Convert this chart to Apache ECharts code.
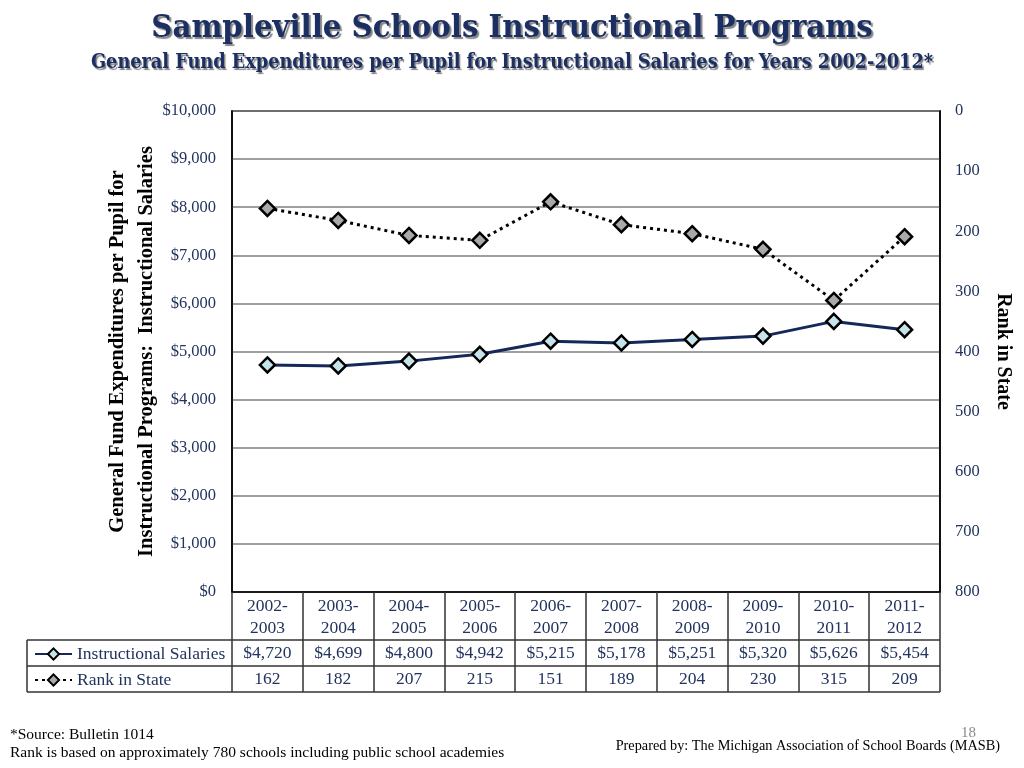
<!DOCTYPE html>
<html><head><meta charset="utf-8">
<script src="https://cdn.jsdelivr.net/npm/echarts@6/dist/echarts.min.js"></script>
<style>html,body{margin:0;padding:0;background:#fff}#c{width:1024px;height:768px}</style>
</head><body><div id="c"></div>
<script>
var categories = ['2002-\n2003','2003-\n2004','2004-\n2005','2005-\n2006','2006-\n2007','2007-\n2008','2008-\n2009','2009-\n2010','2010-\n2011','2011-\n2012'];
var salaries = [4720,4699,4800,4942,5215,5178,5251,5320,5626,5454];
var ranks = [162,182,207,215,151,189,204,230,315,209];
var seriesNames = ['Instructional Salaries','Rank in State'];

var SERIF = '"Liberation Serif", "DejaVu Serif", serif';
var NAVY = '#22335e';
var chart = echarts.init(document.getElementById('c'));
function money(v){ return '$' + v.toLocaleString('en-US'); }

var legendBase = {
  orient:'vertical', left:29, itemWidth:37, itemHeight:14, itemGap:0,
  textStyle:{fontFamily:SERIF,fontSize:17.5,color:NAVY,lineHeight:20}
};

var option = {
  backgroundColor:'#fff',
  animation:false,
  title:[{
    text:'Sampleville Schools Instructional Programs',
    left:'center', top:7,
    textStyle:{fontFamily:'"DejaVu Serif Condensed","DejaVu Serif",serif',fontWeight:'bold',fontSize:32.5,color:'#1b2f63',
      textShadowColor:'rgba(80,80,80,0.7)',textShadowOffsetX:2,textShadowOffsetY:2,textShadowBlur:1}
  },{
    text:'General Fund Expenditures per Pupil for Instructional Salaries for Years 2002-2012*',
    left:'center', top:48,
    textStyle:{fontFamily:'"DejaVu Serif Condensed","DejaVu Serif",serif',fontWeight:'bold',fontSize:19.7,color:'#1b2f63',
      textShadowColor:'rgba(80,80,80,0.7)',textShadowOffsetX:1.5,textShadowOffsetY:1.5,textShadowBlur:1}
  }],
  legend:[
    Object.assign({}, legendBase, {top:639, data:[seriesNames[0]]}),
    Object.assign({}, legendBase, {top:665, data:[seriesNames[1]]})
  ],
  grid:{left:232,right:84,top:111,bottom:176,show:true,borderColor:'#000',borderWidth:1.5,containLabel:false},
  xAxis:{
    type:'category', data:categories, boundaryGap:true,
    axisLine:{show:true,lineStyle:{color:'#000',width:1.5}},
    axisTick:{show:true,length:100,lineStyle:{color:'#333',width:1.5}},
    axisLabel:{fontFamily:SERIF,fontSize:17.5,color:NAVY,lineHeight:22,margin:3,interval:0}
  },
  yAxis:[{
    type:'value', min:0, max:10000, interval:1000, position:'left',
    name:'General Fund Expenditures per Pupil for\nInstructional Programs:  Instructional Salaries',
    nameLocation:'middle', nameGap:71, nameMoveOverlap:false,
    nameTextStyle:{fontFamily:SERIF,fontWeight:'bold',fontSize:20.5,color:'#000',lineHeight:29},
    axisLine:{show:true,lineStyle:{color:'#000',width:1.5}},
    axisTick:{show:false},
    axisLabel:{fontFamily:SERIF,fontSize:16.5,color:NAVY,margin:16,formatter:money},
    splitLine:{show:true,lineStyle:{color:'#7f7f7f',width:1.5}}
  },{
    type:'value', min:0, max:800, interval:100, position:'right', inverse:true,
    name:'Rank in State', nameLocation:'middle', nameGap:53, nameRotate:-90, nameMoveOverlap:false,
    nameTextStyle:{fontFamily:SERIF,fontWeight:'bold',fontSize:20,color:'#000'},
    axisLine:{show:true,lineStyle:{color:'#000',width:1.5}},
    axisTick:{show:false},
    axisLabel:{fontFamily:SERIF,fontSize:16.5,color:NAVY,margin:15},
    splitLine:{show:false}
  }],
  series:[{
    name:seriesNames[0], type:'line', data:salaries, yAxisIndex:0,
    symbol:'diamond', symbolSize:15,
    lineStyle:{color:'#14285a',width:3},
    itemStyle:{color:'#c5e3ea',borderColor:'#000',borderWidth:2.5},
    z:3
  },{
    name:seriesNames[1], type:'line', data:ranks, yAxisIndex:1,
    symbol:'diamond', symbolSize:15,
    lineStyle:{color:'#000',width:3,type:[3,4]},
    itemStyle:{color:'#a9a9a9',borderColor:'#000',borderWidth:2.5},
    z:3
  }]
};
chart.setOption(option);

var g = [];
var L = 27, R = 940;
[640,666,692].forEach(function(y){
  g.push({type:'line',shape:{x1:L,y1:y,x2:R,y2:y},style:{stroke:'#333',lineWidth:1.5},silent:true});
});
g.push({type:'line',shape:{x1:L,y1:640,x2:L,y2:692},style:{stroke:'#333',lineWidth:1.5},silent:true});
for (var i=0;i<categories.length;i++){
  var x = chart.convertToPixel({xAxisIndex:0}, i);
  g.push({type:'text',x:x,y:653,style:{text:money(salaries[i]),fontFamily:SERIF,fontSize:17.5,fill:NAVY,align:'center',verticalAlign:'middle'},silent:true});
  g.push({type:'text',x:x,y:679,style:{text:String(ranks[i]),fontFamily:SERIF,fontSize:17.5,fill:NAVY,align:'center',verticalAlign:'middle'},silent:true});
}
g.push({type:'text',x:10,y:735,style:{text:'*Source: Bulletin 1014',fontFamily:SERIF,fontSize:15.5,fill:'#000',verticalAlign:'middle'}});
g.push({type:'text',x:10,y:753,style:{text:'Rank is based on approximately 780 schools including public school academies',fontFamily:SERIF,fontSize:15.5,fill:'#000',verticalAlign:'middle'}});
g.push({type:'text',x:1000,y:746,style:{text:'Prepared by: The Michigan Association of School Boards (MASB)',fontFamily:SERIF,fontSize:14.3,fill:'#000',align:'right',verticalAlign:'middle'}});
g.push({type:'text',x:976,y:733,style:{text:'18',fontFamily:SERIF,fontSize:15,fill:'#8a8a8a',align:'right',verticalAlign:'middle'}});
chart.setOption({graphic:{elements:g}});
</script></body></html>
